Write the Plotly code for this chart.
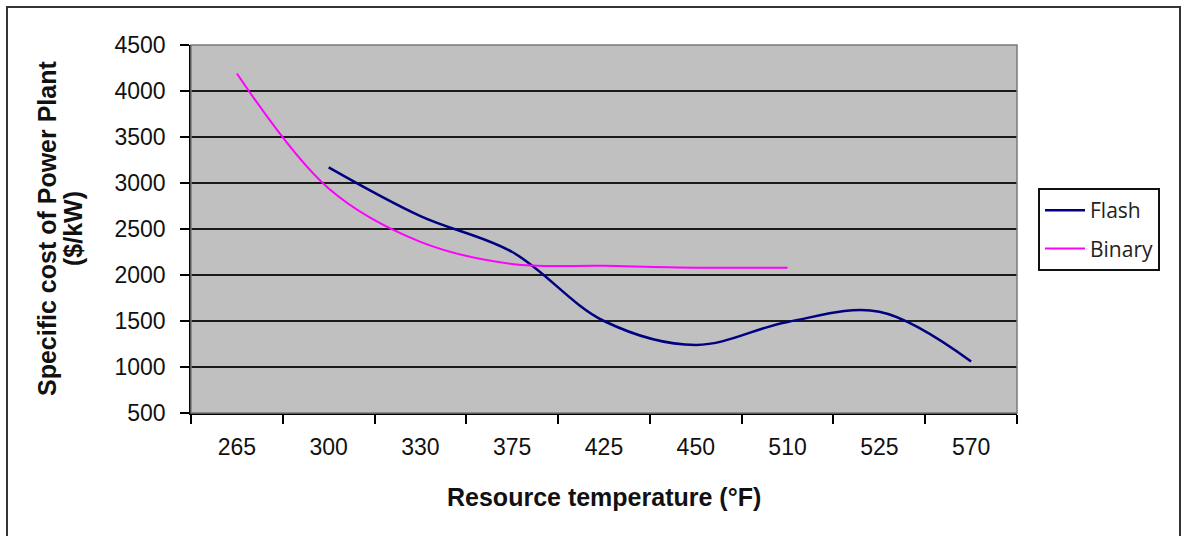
import plotly.graph_objects as go

# Resource temperature categories (°F)
temperatures = ["265", "300", "330", "375", "425", "450", "510", "525", "570"]

# Specific cost of power plant ($/kW)
flash_cost = [None, 3170, 2640, 2250, 1500, 1240, 1490, 1600, 1060]
binary_cost = [4190, 2940, 2360, 2120, 2100, 2080, 2080, None, None]

y_ticks = [500, 1000, 1500, 2000, 2500, 3000, 3500, 4000, 4500]

W, H = 1182, 536
L, R, T, B = 191, 1017, 45, 413  # plot-area edges in pixels


def px_x(p):
    return (p - L) / (R - L)


def px_y(p):
    return (B - p) / (B - T)


fig = go.Figure()
fig.add_trace(go.Scatter(
    x=temperatures, y=flash_cost, name="Flash", mode="lines", legendgroup="flash",
    line=dict(color="#000080", width=2.5, shape="spline", smoothing=1.0),
    connectgaps=False,
))
fig.add_trace(go.Scatter(
    x=temperatures, y=binary_cost, name="Binary", mode="lines", legendgroup="binary",
    line=dict(color="#FF00FF", width=2, shape="spline", smoothing=1.0),
    connectgaps=False,
))

tick_font = dict(family="Liberation Sans, Arial, sans-serif", size=23, color="#111111")
title_font = dict(family="Liberation Sans, Arial, sans-serif", size=25, color="#111111")

fig.update_layout(
    width=W, height=H,
    margin=dict(l=L, r=W - R, t=T, b=H - B, pad=0),
    paper_bgcolor="white",
    plot_bgcolor="#C0C0C0",
    showlegend=True,
    legend=dict(
        x=px_x(1038), y=px_y(188), xanchor="left", yanchor="top",
        bgcolor="white", bordercolor="#111111", borderwidth=2,
        font=dict(family="Open Sans, Noto Sans, sans-serif", size=21, color="#222222"),
        itemwidth=40, tracegroupgap=8,
    ),
    xaxis=dict(
        type="category", range=[-0.5, 8.5],
        tickson="boundaries", ticks="outside", ticklen=9, tickwidth=1.5, tickcolor="black",
        showline=True, linecolor="black", linewidth=1.5,
        showgrid=False, tickfont=tick_font, ticklabelstandoff=13,
    ),
    yaxis=dict(
        range=[500, 4500], tickvals=y_ticks,
        ticks="outside", ticklen=9, tickwidth=1.5, tickcolor="black",
        showline=True, linecolor="black", linewidth=1.5,
        showgrid=True, gridcolor="#1a1a1a", gridwidth=2,
        zeroline=False, tickfont=tick_font, ticklabelstandoff=10,
    ),
    annotations=[
        dict(text="<b>Resource temperature (°F)</b>", xref="paper", yref="paper",
             x=0.5, y=px_y(497), xanchor="center", yanchor="middle",
             showarrow=False, font=title_font),
        dict(text="<b>Specific cost of Power Plant</b>", xref="paper", yref="paper",
             x=px_x(47), y=0.5, xanchor="center", yanchor="middle", textangle=-90,
             showarrow=False, font=title_font),
        dict(text="<b>($/kW)</b>", xref="paper", yref="paper",
             x=px_x(73), y=0.5, xanchor="center", yanchor="middle", textangle=-90,
             showarrow=False, font=title_font),
    ],
    shapes=[
        # plot-area frame (top and right edges)
        dict(type="rect", xref="paper", yref="paper", x0=0, x1=1, y0=0, y1=1,
             line=dict(color="#7a7a7a", width=1.5), layer="above"),
        # chart border
        dict(type="rect", xref="paper", yref="paper",
             x0=px_x(7), x1=px_x(1180), y0=px_y(560), y1=px_y(7),
             line=dict(color="#333333", width=2), layer="above"),
    ],
)

fig.write_html("out.html")
